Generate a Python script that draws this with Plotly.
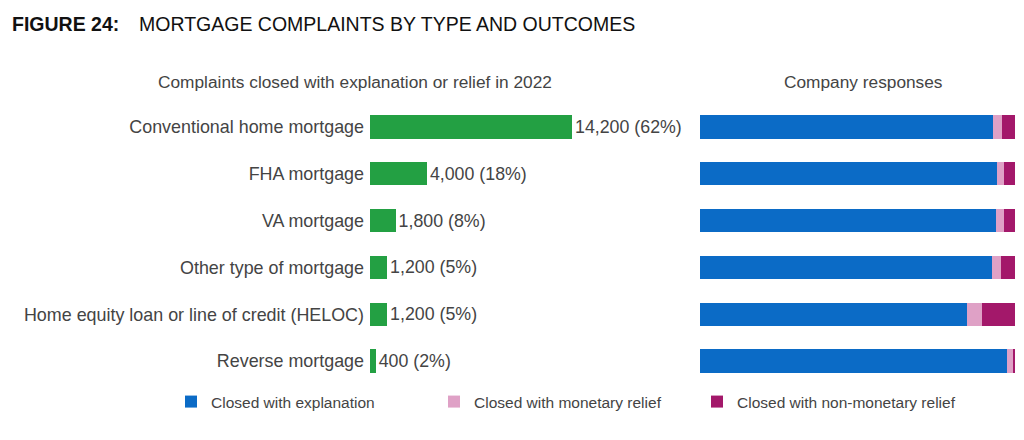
import plotly.graph_objects as go

categories = [
    "Conventional home mortgage",
    "FHA mortgage",
    "VA mortgage",
    "Other type of mortgage",
    "Home equity loan or line of credit (HELOC)",
    "Reverse mortgage",
]
complaints = [14200, 4000, 1800, 1200, 1200, 400]
complaint_pct = [62, 18, 8, 5, 5, 2]

explanation = [93.0, 94.3, 94.0, 92.7, 84.8, 97.5]
monetary = [3.0, 2.2, 2.5, 3.0, 4.8, 1.9]
non_monetary = [4.0, 3.5, 3.5, 4.3, 10.4, 0.6]

W, H = 1024, 440
FONT = "Arial, Liberation Sans, sans-serif"
GREEN = "#23A043"
BLUE = "#0B6BC6"
PINK = "#DFA1C6"
MAGENTA = "#A3186A"
TXT = "#444444"

labels = [f"{v:,} ({p}%)" for v, p in zip(complaints, complaint_pct)]

fig = go.Figure()
fig.add_trace(go.Bar(
    y=categories, x=complaints, orientation="h",
    marker=dict(color=GREEN, line=dict(width=0)),
    text=labels, textposition="outside", cliponaxis=False,
    constraintext="none",
    textfont=dict(size=17.8, color=TXT, family=FONT),
    xaxis="x", yaxis="y", showlegend=False,
))
for name, vals, col in [
    ("Closed with explanation", explanation, BLUE),
    ("Closed with monetary relief", monetary, PINK),
    ("Closed with non-monetary relief", non_monetary, MAGENTA),
]:
    fig.add_trace(go.Bar(
        y=categories, x=vals, orientation="h", name=name,
        marker=dict(color=col, line=dict(width=0)),
        xaxis="x2", yaxis="y2",
    ))

ybot = (H - 384.5) / H
ytop = (H - 103.5) / H

fig.update_layout(
    width=W, height=H,
    margin=dict(l=0, r=0, t=0, b=0),
    paper_bgcolor="white", plot_bgcolor="white",
    barmode="stack", bargap=0.5,
    font=dict(family=FONT, color=TXT, size=17),
    xaxis=dict(domain=[370 / W, 690 / W], range=[0, 14200 * 320 / 202],
               visible=False),
    yaxis=dict(domain=[ybot, ytop], autorange="reversed", anchor="x",
               showline=False, showgrid=False, zeroline=False,
               ticks="", ticklabelstandoff=5,
               tickfont=dict(size=17.9, color=TXT, family=FONT)),
    xaxis2=dict(domain=[700 / W, 1015 / W], range=[0, 100], visible=False,
                anchor="y2"),
    yaxis2=dict(domain=[ybot, ytop], autorange="reversed", anchor="x2",
                visible=False, matches="y"),
    showlegend=True,
    legend=dict(orientation="h", x=171 / W, xanchor="left",
                y=(H - 402) / H, yanchor="middle",
                entrywidth=218, entrywidthmode="pixels",
                font=dict(size=15.5, color=TXT, family=FONT),
                itemsizing="constant", traceorder="normal"),
    annotations=[
        dict(x=10 / W, y=(H - 24) / H, xref="paper", yref="paper",
             xanchor="left", yanchor="middle", showarrow=False,
             text="<b>FIGURE 24:</b>",
             font=dict(size=19.5, color="#111111", family=FONT)),
        dict(x=137 / W, y=(H - 24) / H, xref="paper", yref="paper",
             xanchor="left", yanchor="middle", showarrow=False,
             text="MORTGAGE COMPLAINTS BY TYPE AND OUTCOMES",
             font=dict(size=19.5, color="#111111", family=FONT)),
        dict(x=355 / W, y=(H - 82) / H, xref="paper", yref="paper",
             xanchor="center", yanchor="middle", showarrow=False,
             text="Complaints closed with explanation or relief in 2022",
             font=dict(size=17.3, color=TXT, family=FONT)),
        dict(x=863 / W, y=(H - 82) / H, xref="paper", yref="paper",
             xanchor="center", yanchor="middle", showarrow=False,
             text="Company responses",
             font=dict(size=17.3, color=TXT, family=FONT)),
    ],
)

fig.write_html("out.html")
